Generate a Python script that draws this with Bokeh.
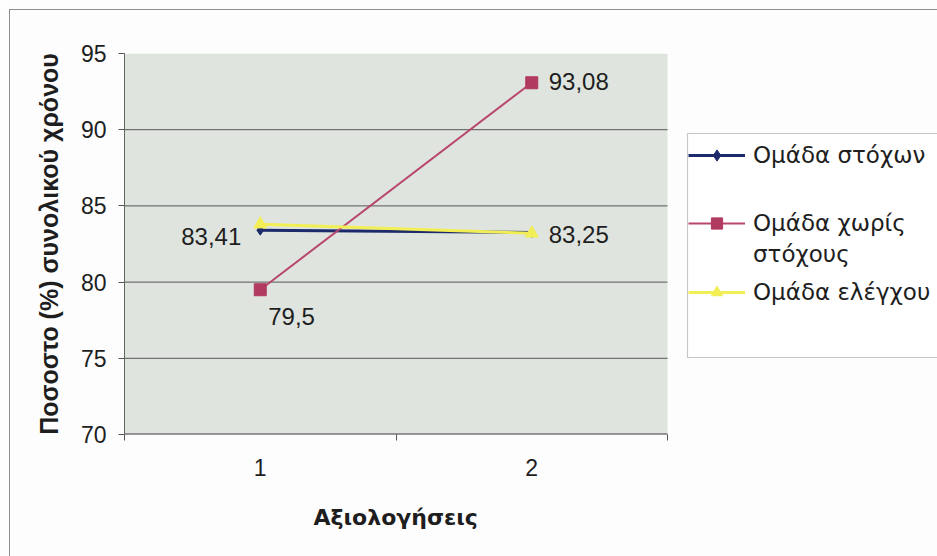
from bokeh.plotting import figure
from bokeh.models import (Range1d, FixedTicker, Legend, LegendItem, ColumnDataSource,
                          LabelSet, InlineStyleSheet, BoxAnnotation, Title)
from bokeh.core.properties import value
from bokeh.embed import file_html
from bokeh.resources import INLINE

# ---- data ----
evaluations = [1, 2]
x_tick_labels = {1: "1", 2: "2"}
group_goals = [83.41, 83.25]          # Ομάδα στόχων
group_no_goals = [79.5, 93.08]        # Ομάδα χωρίς στόχους
group_control = [83.8, 83.2]          # Ομάδα ελέγχου
y_ticks = [70, 75, 80, 85, 90, 95]
series_names = ["Ομάδα στόχων", "Ομάδα χωρίς", "στόχους", "Ομάδα ελέγχου"]
x_title = "Αξιολογήσεις"
y_title = "Ποσοστο (%) συνολικού χρόνου"

# data labels (which points carry a value label)
lab_x = [1, 2, 1, 2]
lab_y = [group_goals[0], group_goals[1], group_no_goals[0], group_no_goals[1]]
lab_text = [f"{v:g}".replace(".", ",") for v in lab_y]

# category axis: plot area spans half a category either side
x_lo, x_hi = evaluations[0] - 0.5, evaluations[-1] + 0.5
y_lo, y_hi = y_ticks[0], y_ticks[-1]

W, H = 937, 556
LEFT, TOP, BOTTOM = 124, 53, 122
AREA_W = 543                       # pixel width of the grey plot area
frame_w = W - LEFT
x_end = x_lo + (x_hi - x_lo) * frame_w / AREA_W   # frame extends under the legend

p = figure(width=W, height=H, output_backend="svg", toolbar_location=None,
           x_range=Range1d(x_lo, x_end), y_range=Range1d(y_lo, y_hi),
           min_border_left=LEFT, min_border_right=0, min_border_top=TOP,
           min_border_bottom=BOTTOM)
p.background_fill_color = "#fdfdfd"
p.border_fill_color = "#fdfdfd"
p.outline_line_color = None
p.xgrid.grid_line_color = None
p.ygrid.grid_line_color = None

SANS = "Liberation Sans"
INK = "#1e1e1e"

# grey plot area, grid lines and x axis line
p.quad(left=[x_lo], right=[x_hi], bottom=[y_lo], top=[y_hi],
       fill_color="#dfe5de", line_color=None)
grid_y = y_ticks[1:-1]
p.segment(x0=[x_lo] * len(grid_y), x1=[x_hi] * len(grid_y), y0=grid_y, y1=grid_y,
          line_color="#555555", line_width=1)
p.segment(x0=[x_lo], x1=[x_hi], y0=[y_lo], y1=[y_lo], line_color="#3a3a3a",
          line_width=2)

# axes
p.xaxis.ticker = FixedTicker(ticks=evaluations,
                             minor_ticks=[x_lo] + [e + 0.5 for e in evaluations])
p.xaxis.major_label_overrides = x_tick_labels
p.xaxis.major_tick_line_color = None
p.xaxis.minor_tick_out = 6
p.xaxis.minor_tick_in = 0
p.xaxis.minor_tick_line_color = "#555555"
p.xaxis.axis_line_color = None
p.xaxis.major_label_standoff = 18
p.xaxis.major_label_text_font = SANS
p.xaxis.major_label_text_font_size = "23px"
p.xaxis.major_label_text_color = INK

xt = Title(text=x_title, align="left", offset=189, text_font="DejaVu Sans",
           text_font_style="bold", text_font_size="22px", text_color=INK,
           standoff=48)
p.add_layout(xt, "below")

p.yaxis.ticker = FixedTicker(ticks=y_ticks, minor_ticks=[])
p.yaxis.major_tick_out = 6
p.yaxis.major_tick_in = 0
p.yaxis.major_tick_line_color = "#555555"
p.yaxis.axis_line_color = "#666666"
p.yaxis.major_label_standoff = 12
p.yaxis.major_label_text_font = SANS
p.yaxis.major_label_text_font_size = "23px"
p.yaxis.major_label_text_color = INK
p.yaxis.axis_label = y_title
p.yaxis.axis_label_text_font = SANS
p.yaxis.axis_label_text_font_style = "bold"
p.yaxis.axis_label_text_font_size = "25px"
p.yaxis.axis_label_text_color = INK
p.yaxis.axis_label_standoff = 15

# series
c_goals, c_nogoals, c_control = "#1c2a6b", "#b8466f", "#f2ee55"
l1 = p.line(evaluations, group_goals, line_color=c_goals, line_width=3)
m1 = p.scatter(evaluations, group_goals, marker="diamond", size=10,
               fill_color=c_goals, line_color=c_goals)
l2 = p.line(evaluations, group_no_goals, line_color=c_nogoals, line_width=2)
m2 = p.scatter(evaluations, group_no_goals, marker="square", size=12,
               fill_color="#b03a60", line_color="#b03a60")
l3 = p.line(evaluations, group_control, line_color=c_control, line_width=3)
m3 = p.scatter(evaluations, group_control, marker="triangle", size=13,
               fill_color=c_control, line_color=c_control)
blank = p.scatter([], [], size=0, fill_alpha=0, line_alpha=0)

# value labels
src = ColumnDataSource(dict(x=lab_x, y=lab_y, t=lab_text,
                            xo=[-19, 17, 8, 17], yo=[-6, -2, -27, 1],
                            al=["right", "left", "left", "left"]))
p.add_layout(LabelSet(x="x", y="y", text="t", source=src, x_offset="xo", y_offset="yo",
                      text_align="al", text_baseline="middle",
                      text_font=value(SANS), text_font_size=value("24px"),
                      text_color=INK))

# legend frame
p.add_layout(BoxAnnotation(left=687, right=1100, top=133, bottom=357,
                           left_units="canvas", right_units="canvas",
                           top_units="canvas", bottom_units="canvas",
                           fill_color="#ffffff", fill_alpha=1.0,
                           line_color="#4a4a4a", line_width=1.2, level="annotation"))


def make_legend(items, loc, spacing):
    lg = Legend(items=items, location=loc, orientation="vertical")
    lg.border_line_color = None
    lg.background_fill_alpha = 0
    lg.padding = 6
    lg.margin = 0
    lg.spacing = spacing
    lg.glyph_width = 57
    lg.glyph_height = 28
    lg.label_height = 28
    lg.label_standoff = 8
    lg.label_text_font = "DejaVu Sans"
    lg.label_text_font_size = "23px"
    lg.label_text_color = INK
    return lg


leg_a = make_legend([LegendItem(label=series_names[0], renderers=[l1, m1]),
                     LegendItem(label=series_names[1], renderers=[l2, m2])],
                    (564, 197), 40)
leg_b = make_legend([LegendItem(label=series_names[2], renderers=[blank]),
                     LegendItem(label=series_names[3], renderers=[l3, m3])],
                    (564, 128), 10)
p.add_layout(leg_a)
p.add_layout(leg_b)

# thin outer chart frame (top and left edges, as in the scan)
p.stylesheets = [InlineStyleSheet(css="""
:host { position: relative; }
:host::after { content: ''; position: absolute; left: 9px; top: 9px; right: 0; bottom: 0;
  border-top: 1.5px solid #8a8f8a; border-left: 1.5px solid #8a8f8a; pointer-events: none; }
""")]

open("out.html", "w").write(file_html(p, INLINE))
